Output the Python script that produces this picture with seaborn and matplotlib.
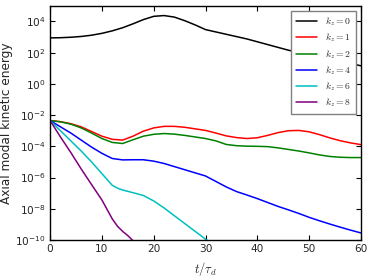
import matplotlib
matplotlib.use("Agg")
import matplotlib.pyplot as plt
import seaborn as sns
import numpy as np
from matplotlib.ticker import NullLocator

# time axis (t / tau_d)
t_grid = [0, 2, 4, 6, 8, 10, 12, 14, 16, 18, 20, 22, 24, 26, 28, 30,
          32, 34, 36, 38, 40, 42, 44, 46, 48, 50, 52, 54, 56, 58, 60]
t_cyan = [0, 2, 4, 6, 8, 10, 12, 13, 14, 16, 18, 20, 22, 24, 26, 28, 30, 31]
t_purple = [0, 2, 4, 6, 8, 10, 12, 13, 14, 15, 16]

# log10 of the axial modal kinetic energy
kz0_log = [2.95, 2.96, 2.99, 3.04, 3.12, 3.24, 3.40, 3.60, 3.85, 4.12, 4.33, 4.38,
           4.28, 4.05, 3.78, 3.48, 3.33, 3.18, 3.03, 2.88, 2.70, 2.52, 2.34, 2.16,
           2.02, 1.88, 1.74, 1.60, 1.46, 1.31, 1.16]
kz1_log = [-2.35, -2.42, -2.55, -2.75, -3.05, -3.35, -3.55, -3.60, -3.35, -3.03,
           -2.82, -2.72, -2.72, -2.78, -2.88, -2.98, -3.15, -3.33, -3.44, -3.50,
           -3.45, -3.30, -3.12, -3.00, -2.98, -3.07, -3.25, -3.46, -3.64, -3.78, -3.89]
kz2_log = [-2.35, -2.43, -2.58, -2.82, -3.15, -3.50, -3.75, -3.82, -3.58, -3.35,
           -3.23, -3.18, -3.22, -3.30, -3.40, -3.50, -3.65, -3.88, -3.96, -3.99,
           -4.00, -4.02, -4.10, -4.20, -4.30, -4.42, -4.55, -4.65, -4.70, -4.72, -4.72]
kz4_log = [-2.35, -2.75, -3.15, -3.60, -4.05, -4.45, -4.78, -4.87, -4.86, -4.86,
           -4.95, -5.10, -5.30, -5.50, -5.70, -5.90, -6.25, -6.60, -6.90, -7.12,
           -7.35, -7.60, -7.85, -8.07, -8.30, -8.55, -8.77, -8.98, -9.18, -9.37, -9.55]
kz6_log = [-2.35, -3.00, -3.65, -4.30, -5.00, -5.75, -6.50, -6.68, -6.80, -6.97,
           -7.15, -7.50, -7.95, -8.45, -8.95, -9.45, -9.95, -10.20]
kz8_log = [-2.35, -3.40, -4.40, -5.45, -6.45, -7.44, -8.65, -9.12, -9.45, -9.72, -10.05]

series = [
    (r"$k_z=0$", t_grid, kz0_log, "black"),
    (r"$k_z=1$", t_grid, kz1_log, "red"),
    (r"$k_z=2$", t_grid, kz2_log, "green"),
    (r"$k_z=4$", t_grid, kz4_log, "blue"),
    (r"$k_z=6$", t_cyan, kz6_log, "#00bfbf"),
    (r"$k_z=8$", t_purple, kz8_log, "purple"),
]

sns.set_theme(style="ticks")
plt.rcParams.update({
    "font.family": ["DejaVu Sans"],
    "mathtext.fontset": "cm",
    "axes.unicode_minus": False,
    "xtick.direction": "in",
    "ytick.direction": "in",
    "xtick.top": True,
    "ytick.right": True,
    "axes.edgecolor": "black",
    "axes.linewidth": 1.0,
})

fig, ax = plt.subplots(figsize=(3.74, 2.8), dpi=100)
fig.subplots_adjust(left=0.134, right=0.965, top=0.979, bottom=0.143)

for label, t_vals, log_vals, color in series:
    sns.lineplot(x=t_vals, y=10.0 ** np.asarray(log_vals), color=color,
                 linewidth=1.1, label=label, ax=ax)

ax.set_yscale("log")
ax.set_xlim(0, 60)
ax.set_ylim(1e-10, 1e5)
ax.set_xticks([0, 10, 20, 30, 40, 50, 60])
ax.set_yticks([1e-10, 1e-8, 1e-6, 1e-4, 1e-2, 1e0, 1e2, 1e4])
ax.yaxis.set_minor_locator(NullLocator())
ax.tick_params(which="major", length=3.5, width=0.8, labelsize=7.6, color="black",
               pad=3)

ax.set_xlabel(r"$t/\tau_d$", fontsize=9)
ax.set_ylabel("Axial modal kinetic energy", fontsize=8.7, labelpad=2)

legend = ax.legend(loc="upper right", fontsize=7, frameon=True, fancybox=False,
                   handlelength=2.2, labelspacing=0.36, borderpad=0.5)
legend.get_frame().set_edgecolor("0.5")
legend.get_frame().set_linewidth(1.0)
legend.get_frame().set_alpha(1.0)

fig.savefig("out.png", dpi=100)
plt.close(fig)
